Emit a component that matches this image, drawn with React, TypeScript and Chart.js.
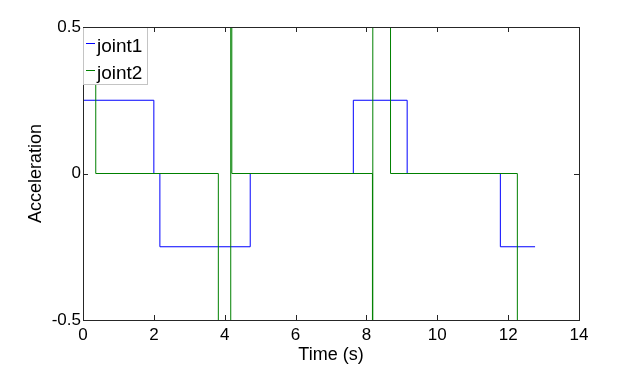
import React, { useEffect, useRef } from 'react';
import { Chart, registerables } from 'chart.js';

Chart.register(...registerables);

// ---- data ----
const joint1Times = [0, 2.0, 2.17, 4.72, 7.63, 9.15, 11.78, 12.76];
const joint1Values = [0.25, 0, -0.25, 0, 0.25, 0, -0.25, -0.25];

const joint2Times = [0, 0.36, 3.82, 4.17, 4.2, 8.17, 8.18, 8.68, 12.26];
const joint2Values = [1.2, 0, -1.2, 1.2, 0, -1.2, 1.2, 0, -1.2];

const seriesLabels = ['joint1', 'joint2'];
const seriesColors = ['#0000ff', '#008000'];

const xTickValues = [0, 2, 4, 6, 8, 10, 12, 14];
const yTickValues = [-0.5, 0, 0.5];
const xRange = [0, 14];
const yRange = [-0.5, 0.5];

const xTitle = 'Time (s)';
const yTitle = 'Acceleration';

const FONT = '"Liberation Sans", Arial, Helvetica, sans-serif';

const matlabFrame = {
  id: 'matlabFrame',
  afterDatasetsDraw(chart: any) {
    const ctx = chart.ctx;
    const a = chart.chartArea;
    const xs = chart.scales.x;
    const ys = chart.scales.y;
    ctx.save();
    // axes box
    ctx.strokeStyle = '#262626';
    ctx.lineWidth = 1;
    ctx.strokeRect(a.left + 0.5, a.top + 0.5, a.right - a.left, a.bottom - a.top);
    // inward ticks
    const tl = 5;
    ctx.beginPath();
    xTickValues.forEach((v) => {
      const px = Math.round(xs.getPixelForValue(v)) + 0.5;
      ctx.moveTo(px, a.bottom);
      ctx.lineTo(px, a.bottom - tl);
      ctx.moveTo(px, a.top);
      ctx.lineTo(px, a.top + tl);
    });
    yTickValues.forEach((v) => {
      const py = Math.round(ys.getPixelForValue(v)) + 0.5;
      ctx.moveTo(a.left, py);
      ctx.lineTo(a.left + tl, py);
      ctx.moveTo(a.right, py);
      ctx.lineTo(a.right - tl, py);
    });
    ctx.stroke();

    // legend box (MATLAB style, top-left inside axes)
    const bx = a.left + 0.5;
    const by = a.top + 0.5;
    const bw = 64;
    const bh = 57;
    ctx.fillStyle = '#ffffff';
    ctx.fillRect(bx, by, bw, bh);
    ctx.strokeStyle = '#c4c4c4';
    ctx.strokeRect(bx, by, bw, bh);
    // redraw top axis line over legend
    ctx.strokeStyle = '#262626';
    ctx.beginPath();
    ctx.moveTo(a.left, a.top + 0.5);
    ctx.lineTo(a.left + bw + 1, a.top + 0.5);
    ctx.stroke();

    ctx.font = `19px ${FONT}`;
    ctx.textBaseline = 'alphabetic';
    ctx.textAlign = 'left';
    seriesLabels.forEach((label, i) => {
      const ly = a.top + 16 + i * 27;
      ctx.strokeStyle = seriesColors[i];
      ctx.lineWidth = 1;
      ctx.beginPath();
      ctx.moveTo(a.left + 3, ly + 0.5);
      ctx.lineTo(a.left + 12, ly + 0.5);
      ctx.stroke();
      ctx.fillStyle = '#000000';
      ctx.fillText(label, a.left + 14, a.top + 25 + i * 27);
    });
    ctx.restore();
  },
};

export default function App() {
  const canvasRef = useRef<HTMLCanvasElement | null>(null);

  useEffect(() => {
    if (!canvasRef.current) return;
    const toPoints = (t: number[], v: number[]) => t.map((x, i) => ({ x, y: v[i] }));
    const chart = new Chart(canvasRef.current, {
      type: 'line',
      data: {
        datasets: [
          {
            label: seriesLabels[0],
            data: toPoints(joint1Times, joint1Values),
            borderColor: seriesColors[0],
            backgroundColor: seriesColors[0],
            borderWidth: 1,
            pointRadius: 0,
            stepped: 'before',
            fill: false,
            clip: 0,
            order: 1,
          },
          {
            label: seriesLabels[1],
            data: toPoints(joint2Times, joint2Values),
            borderColor: seriesColors[1],
            backgroundColor: seriesColors[1],
            borderWidth: 1,
            pointRadius: 0,
            stepped: 'before',
            fill: false,
            clip: 0,
            order: 0,
          },
        ],
      },
      options: {
        animation: false,
        responsive: false,
        devicePixelRatio: 1,
        layout: { padding: { top: 27, right: 61, bottom: 0, left: 0 } },
        plugins: {
          legend: { display: false },
          tooltip: { enabled: false },
        },
        scales: {
          x: {
            type: 'linear',
            min: xRange[0],
            max: xRange[1],
            afterBuildTicks: (s: any) => {
              s.ticks = xTickValues.map((v) => ({ value: v }));
            },
            afterFit: (s: any) => {
              s.height = 46;
            },
            grid: { display: false, drawTicks: false, tickLength: 0 },
            border: { display: false },
            ticks: {
              color: '#000',
              font: { family: FONT, size: 17 },
              padding: 5,
              maxRotation: 0,
              autoSkip: false,
              callback: (v: any) => String(v),
            },
            title: {
              display: true,
              text: xTitle,
              color: '#000',
              font: { family: FONT, size: 18 },
              padding: { top: 0, bottom: 0 },
            },
          },
          y: {
            type: 'linear',
            min: yRange[0],
            max: yRange[1],
            afterBuildTicks: (s: any) => {
              s.ticks = yTickValues.map((v) => ({ value: v }));
            },
            afterFit: (s: any) => {
              s.width = 83;
            },
            grid: { display: false, drawTicks: false, tickLength: 0 },
            border: { display: false },
            ticks: {
              color: '#000',
              font: { family: FONT, size: 17 },
              padding: 2,
              autoSkip: false,
              callback: (v: any) => String(v),
            },
            title: {
              display: true,
              text: yTitle,
              color: '#000',
              font: { family: FONT, size: 18 },
              padding: { top: 25, bottom: 0 },
            },
          },
        },
      },
      plugins: [matlabFrame],
    } as any);
    return () => chart.destroy();
  }, []);

  return (
    <div style={{ position: 'fixed', left: 0, top: 0, width: 640, height: 366, background: '#fff' }}>
      <canvas ref={canvasRef} width={640} height={366} style={{ display: 'block' }} />
    </div>
  );
}
